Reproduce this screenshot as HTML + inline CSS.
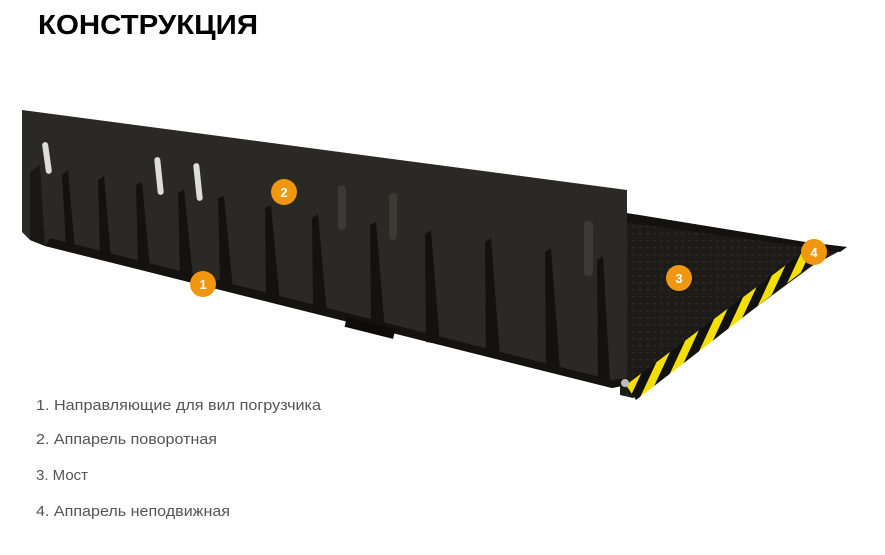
<!DOCTYPE html>
<html><head><meta charset="utf-8"><style>
html,body{margin:0;padding:0;background:#fff;width:885px;height:555px;overflow:hidden}
svg{display:block}
</style></head><body>
<svg width="885" height="555" viewBox="0 0 885 555" xmlns="http://www.w3.org/2000/svg">
<defs>
<pattern id="stripes" patternUnits="userSpaceOnUse" width="17" height="17" patternTransform="rotate(25)">
<rect width="17" height="17" fill="#111"/><rect width="8" height="17" fill="#f3e000"/>
</pattern>
<pattern id="dots" patternUnits="userSpaceOnUse" width="7" height="7">
<rect width="7" height="7" fill="#1d1b18"/><rect x="2" y="2" width="3" height="1.5" fill="#2c2a26"/>
</pattern>
</defs>
<text x="38" y="34" font-family="Liberation Sans, sans-serif" font-weight="bold" font-size="28" fill="#000" textLength="220" lengthAdjust="spacingAndGlyphs">КОНСТРУКЦИЯ</text>

<polygon points="620,212 805,242 847,247 812,266 633,398 620,395" fill="url(#dots)"/>
<polygon points="620,212 805,242 847,247 840,252 805,247 625,222" fill="#141210"/>
<polygon points="626,385 802,253 812,264 636,400" fill="url(#stripes)"/>
<polygon points="802,253 815,250 812,264" fill="#141210"/>

<polygon points="22,110 627,190 627,385 612,388 45,246 30,240 22,232" fill="#2b2926"/>
<polygon points="30,172 40,165 45,246 30,240" fill="#1a1815"/>
<polygon points="45,246 612,388 627,385 627,378 612,380 50,238" fill="#151310"/>
<g fill="#141210">
<polygon points="62,175 68,170 75,250 66,248"/>
<polygon points="98,180 104,176 111,258 100,256"/>
<polygon points="136,185 142,182 150,268 138,265"/>
<polygon points="178,193 184,189 193,278 180,276"/>
<polygon points="218,198 224,196 233,290 220,288"/>
<polygon points="265,208 271,205 280,302 266,300"/>
<polygon points="312,218 318,214 327,315 313,312"/>
<polygon points="370,225 376,222 385,330 371,328"/>
<polygon points="425,234 431,230 440,344 426,342"/>
<polygon points="485,242 491,238 500,357 486,355"/>
<polygon points="545,252 551,248 560,370 546,368"/>
<polygon points="597,260 603,256 610,380 598,378"/>
</g>
<rect x="345" y="323" width="50" height="10" fill="#0e0c0a" transform="rotate(14 370 328)"/>
<circle cx="625" cy="383" r="4" fill="#bbb"/>
<g fill="#ddd">
<rect x="44" y="142" width="6" height="32" rx="3" transform="rotate(-8 47 158)"/>
<rect x="156" y="157" width="6" height="38" rx="3" transform="rotate(-6 159 176)"/>
<rect x="195" y="163" width="6" height="38" rx="3" transform="rotate(-6 198 182)"/>
</g>
<g fill="#3d3a36">
<rect x="338" y="185" width="8" height="45" rx="4"/>
<rect x="389" y="193" width="8" height="47" rx="4"/>
<rect x="584" y="221" width="9" height="55" rx="4"/>
</g>

<g font-family="Liberation Sans, sans-serif" font-weight="bold" font-size="13" fill="#fff" text-anchor="middle">
<circle cx="203" cy="284" r="13" fill="#f0960f"/><text x="203" y="289">1</text>
<circle cx="284" cy="192" r="13" fill="#f0960f"/><text x="284" y="197">2</text>
<circle cx="679" cy="278" r="13" fill="#f0960f"/><text x="679" y="283">3</text>
<circle cx="814" cy="252" r="13" fill="#f0960f"/><text x="814" y="257">4</text>
</g>

<g font-family="Liberation Sans, sans-serif" font-size="15" fill="#555">
<text x="36" y="410" textLength="285" lengthAdjust="spacingAndGlyphs">1. Направляющие для вил погрузчика</text>
<text x="36" y="444" textLength="181" lengthAdjust="spacingAndGlyphs">2. Аппарель поворотная</text>
<text x="36" y="480">3. Мост</text>
<text x="36" y="516" textLength="194" lengthAdjust="spacingAndGlyphs">4. Аппарель неподвижная</text>
</g>
</svg>
</body></html>
